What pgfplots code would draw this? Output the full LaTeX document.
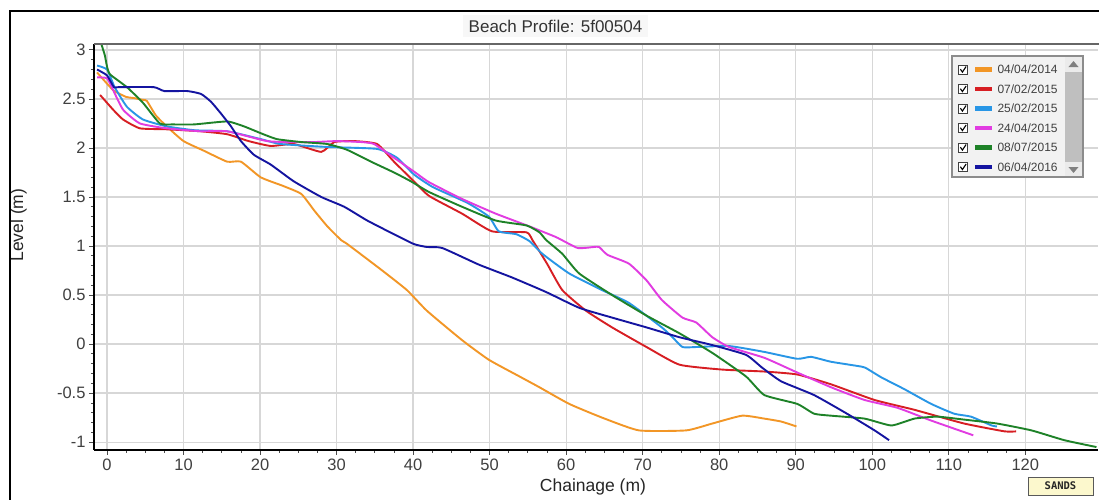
\documentclass[border=0pt]{standalone}
\usepackage{fontspec}
\setmainfont{Liberation Sans}
\newfontfamily\sandsfont{DejaVu Sans Mono}
\usepackage{pgfplots}
\pgfplotsset{compat=1.18}
\definecolor{corange}{RGB}{242,150,38}
\definecolor{cred}{RGB}{215,30,35}
\definecolor{clblue}{RGB}{40,150,230}
\definecolor{cmag}{RGB}{225,60,225}
\definecolor{cgreen}{RGB}{30,130,40}
\definecolor{cdblue}{RGB}{20,20,160}
\definecolor{gridgray}{RGB}{215,215,215}
\definecolor{legbg}{RGB}{242,242,242}
\definecolor{sandsbg}{RGB}{252,248,205}
\newcommand{\legchk}[1]{%
  \draw[black!75, line width=0.7pt, fill=white, solid] (0pt,-4.5pt) rectangle (9pt,4.5pt);
  \draw[black, line width=1.1pt, solid] (1.8pt,0.3pt) -- (3.8pt,-2.5pt) -- (7.5pt,3pt);
  \fill[fill=#1] (17pt,-1.2pt) rectangle (32pt,1.2pt);}
\begin{document}
\begin{tikzpicture}[x=1pt,y=1pt]
\fill[white] (-94,-50) rectangle (1005,450);
\begin{axis}[
  at={(0,0)}, anchor=south west, scale only axis,
  width=1004pt, height=406pt,
  xmin=-1.7, xmax=129.5, ymin=-1.08, ymax=3.06,
  axis x line*=bottom, axis y line*=left,
  axis line style={black, line width=2pt},
  xtick={0,10,20,30,40,50,60,70,80,90,100,110,120},
  ytick={-1,-0.5,0,0.5,1,1.5,2,2.5,3},
  minor x tick num=3, minor y tick num=4,
  tick align=outside,
  major tick length=5pt, minor tick length=3pt,
  tick style={black!70, line width=0.8pt},
  grid=major,
  major grid style={draw=gridgray, line width=1.3pt},
  tick label style={font=\fontsize{16.5}{18}\selectfont, text=black!75},
  /pgf/number format/assume math mode=true,
  xlabel={Chainage (m)}, ylabel={Level (m)},
  xlabel style={at={(axis description cs:0.497,-0.0911)}, anchor=center, font=\fontsize{17.5}{20}\selectfont, text=black!85},
  ylabel style={at={(axis description cs:-0.0752,0.554)}, anchor=center, font=\fontsize{17.5}{20}\selectfont, text=black!85},
  legend cell align=left,
  legend style={at={(axis description cs:0.8606,0.9495)}, anchor=north west,
    draw=none, fill=none, inner sep=0pt, row sep=9.8pt, column sep=6pt,
    font=\fontsize{12}{13}\selectfont, text=black!75,
    nodes={inner sep=0pt, text height=8.6pt, text depth=0pt}},
  every axis plot/.append style={line width=1.9pt, smooth, tension=0.3},
]
% legend box and scrollbar
\fill[legbg] (axis description cs:0.8546,0.6724) rectangle (axis description cs:0.9851,0.9704);
\draw[black!45, line width=1.2pt] (axis description cs:0.8546,0.6724) rectangle (axis description cs:0.9851,0.9704);
\fill[black!8] (axis description cs:0.9671,0.6749) rectangle (axis description cs:0.9841,0.9680);
\fill[black!25] (axis description cs:0.9671,0.7094) rectangle (axis description cs:0.9841,0.9310);
\fill[black!50] (axis description cs:0.9706,0.9433) -- (axis description cs:0.9806,0.9433) -- (axis description cs:0.9756,0.9581) -- cycle;
\fill[black!50] (axis description cs:0.9706,0.6970) -- (axis description cs:0.9806,0.6970) -- (axis description cs:0.9756,0.6823) -- cycle;

\addplot[corange, legend image code/.code={\legchk{corange}}] coordinates {
(-1.3,2.77) (0.8,2.59) (2.5,2.52) (3.4,2.51) (4.7,2.49) (5.2,2.48) (6.4,2.33) (7.8,2.22) (10,2.07) (12.7,1.97) (15.7,1.86) (17.5,1.86) (20.1,1.70) (23.1,1.61) (25.4,1.53) (27.1,1.36) (28.8,1.20) (30.6,1.06) (31.4,1.02) (35.8,0.76) (39.2,0.55) (41.8,0.34) (46.4,0.04) (49.9,-0.16) (53.9,-0.33) (56.5,-0.44) (60.4,-0.61) (64.7,-0.75) (69.5,-0.88) (75.7,-0.88) (79.1,-0.81) (83,-0.73) (85.9,-0.76) (88.1,-0.79) (90.1,-0.84)
};
\addlegendentry{04/04/2014}
\addplot[cred, legend image code/.code={\legchk{cred}}] coordinates {
(-0.9,2.54) (0.8,2.39) (2.1,2.29) (4.3,2.20) (7.8,2.19) (12.2,2.17) (15.7,2.14) (18.5,2.07) (21.4,2.02) (24.4,2.04) (28,1.96) (29.7,2.06) (32.3,2.07) (35.3,2.04) (37.5,1.86) (40.1,1.66) (42.1,1.51) (46.4,1.33) (50.3,1.15) (54.8,1.14) (55.6,1.06) (57.5,0.82) (59.5,0.55) (62.6,0.34) (66,0.17) (70.5,-0.03) (74.8,-0.21) (80.4,-0.26) (85.9,-0.28) (90.2,-0.31) (94.6,-0.41) (100.3,-0.57) (105.5,-0.67) (112,-0.81) (117.3,-0.89) (118.8,-0.89)
};
\addlegendentry{07/02/2015}
\addplot[clblue, legend image code/.code={\legchk{clblue}}] coordinates {
(-1.3,2.84) (0,2.80) (1,2.62) (2.6,2.42) (4.7,2.29) (7.8,2.22) (11.5,2.18) (15.7,2.17) (20.1,2.09) (22.7,2.04) (28.8,2.01) (35.3,1.99) (37.9,1.90) (40.1,1.73) (42.6,1.60) (47.1,1.44) (49.9,1.30) (51.2,1.15) (53.5,1.12) (55.2,1.05) (56.9,0.92) (60.4,0.72) (64.7,0.55) (68.2,0.42) (72.5,0.17) (73.9,0.07) (75.2,-0.03) (77,-0.03) (81.3,-0.02) (85.9,-0.08) (90.2,-0.15) (92,-0.13) (94.6,-0.18) (98.6,-0.23) (99.3,-0.25) (101.2,-0.34) (104.2,-0.46) (107.7,-0.61) (110.7,-0.71) (112.9,-0.74) (115.6,-0.83) (116.3,-0.84)
};
\addlegendentry{25/02/2015}
\addplot[cmag, legend image code/.code={\legchk{cmag}}] coordinates {
(-1.3,2.72) (0,2.71) (0.8,2.59) (2.1,2.39) (4.3,2.25) (7.8,2.20) (12.2,2.17) (15.7,2.17) (20.9,2.07) (24.4,2.06) (27.1,2.06) (30,2.07) (33.2,2.06) (34.9,2.04) (37.5,1.90) (40.1,1.76) (42.1,1.65) (46.4,1.48) (50.8,1.33) (55.2,1.20) (58.7,1.09) (61.5,0.98) (63.6,0.99) (64.3,0.99) (65.4,0.91) (68.2,0.82) (70.5,0.65) (72.5,0.45) (75.2,0.27) (77,0.22) (79.1,0.07) (81.3,-0.03) (85.9,-0.14) (90.2,-0.29) (94.6,-0.44) (99,-0.57) (103.3,-0.65) (107.7,-0.78) (113.2,-0.93)
};
\addlegendentry{24/04/2015}
\addplot[cgreen, legend image code/.code={\legchk{cgreen}}] coordinates {
(-1.0,3.12) (-0.3,2.95) (0,2.83) (0.4,2.75) (2.6,2.62) (4.7,2.46) (6.9,2.25) (8.6,2.24) (11.4,2.24) (15.7,2.27) (17.9,2.22) (20.1,2.15) (22.2,2.09) (25.4,2.06) (28.8,2.04) (31.4,1.98) (34.5,1.86) (37.5,1.75) (39.7,1.66) (42.1,1.55) (46.4,1.40) (50.8,1.26) (54.8,1.21) (56.5,1.14) (57.4,1.06) (59.5,0.92) (61.7,0.72) (66,0.50) (70.5,0.29) (74.8,0.11) (79.1,-0.09) (83.5,-0.33) (85.9,-0.52) (90.2,-0.61) (92.4,-0.71) (94.6,-0.73) (99,-0.76) (102.5,-0.83) (105.5,-0.76) (108.5,-0.74) (112,-0.77) (116.3,-0.81) (120.8,-0.88) (125.1,-0.98) (129.3,-1.05)
};
\addlegendentry{08/07/2015}
\addplot[cdblue, legend image code/.code={\legchk{cdblue}}] coordinates {
(-1.3,2.80) (0,2.74) (0.9,2.62) (1.5,2.62) (6.1,2.62) (7.5,2.58) (10.5,2.58) (12.3,2.55) (13.6,2.47) (14.9,2.35) (16.2,2.22) (17.5,2.07) (19.2,1.93) (21.4,1.83) (24.4,1.66) (28,1.50) (31,1.40) (34,1.26) (37.5,1.12) (40.1,1.02) (41.8,0.99) (43.8,0.98) (48.6,0.81) (52.9,0.68) (57.4,0.53) (61.7,0.37) (66,0.27) (70.5,0.17) (74.8,0.07) (79.1,-0.01) (83.5,-0.11) (85.6,-0.24) (88.1,-0.38) (92.4,-0.52) (96.7,-0.71) (100.3,-0.88) (102.2,-0.98)
};
\addlegendentry{06/04/2016}
\end{axis}
% top border of plot area
\draw[black!60, line width=2pt] (0,406) -- (1005,406);
% outer frame
\draw[black, line width=2pt] (-84,-50) -- (-84,439) -- (1005,439);
% title
\fill[black!3] (369,413) rectangle (554,435);
\node[font=\fontsize{17}{20}\selectfont, text=black!80] at (461.5,423.5) {Beach Profile: 5f00504};
% SANDS tag
\draw[draw=black!65, fill=sandsbg, line width=1pt] (934,-45) rectangle (999,-27);
\node[font=\sandsfont\bfseries\fontsize{10.5}{12}\selectfont, text=black!85] at (966.5,-36) {SANDS};
\pgfresetboundingbox
\path[use as bounding box] (-94,-50) rectangle (1005,450);
\end{tikzpicture}
\end{document}
